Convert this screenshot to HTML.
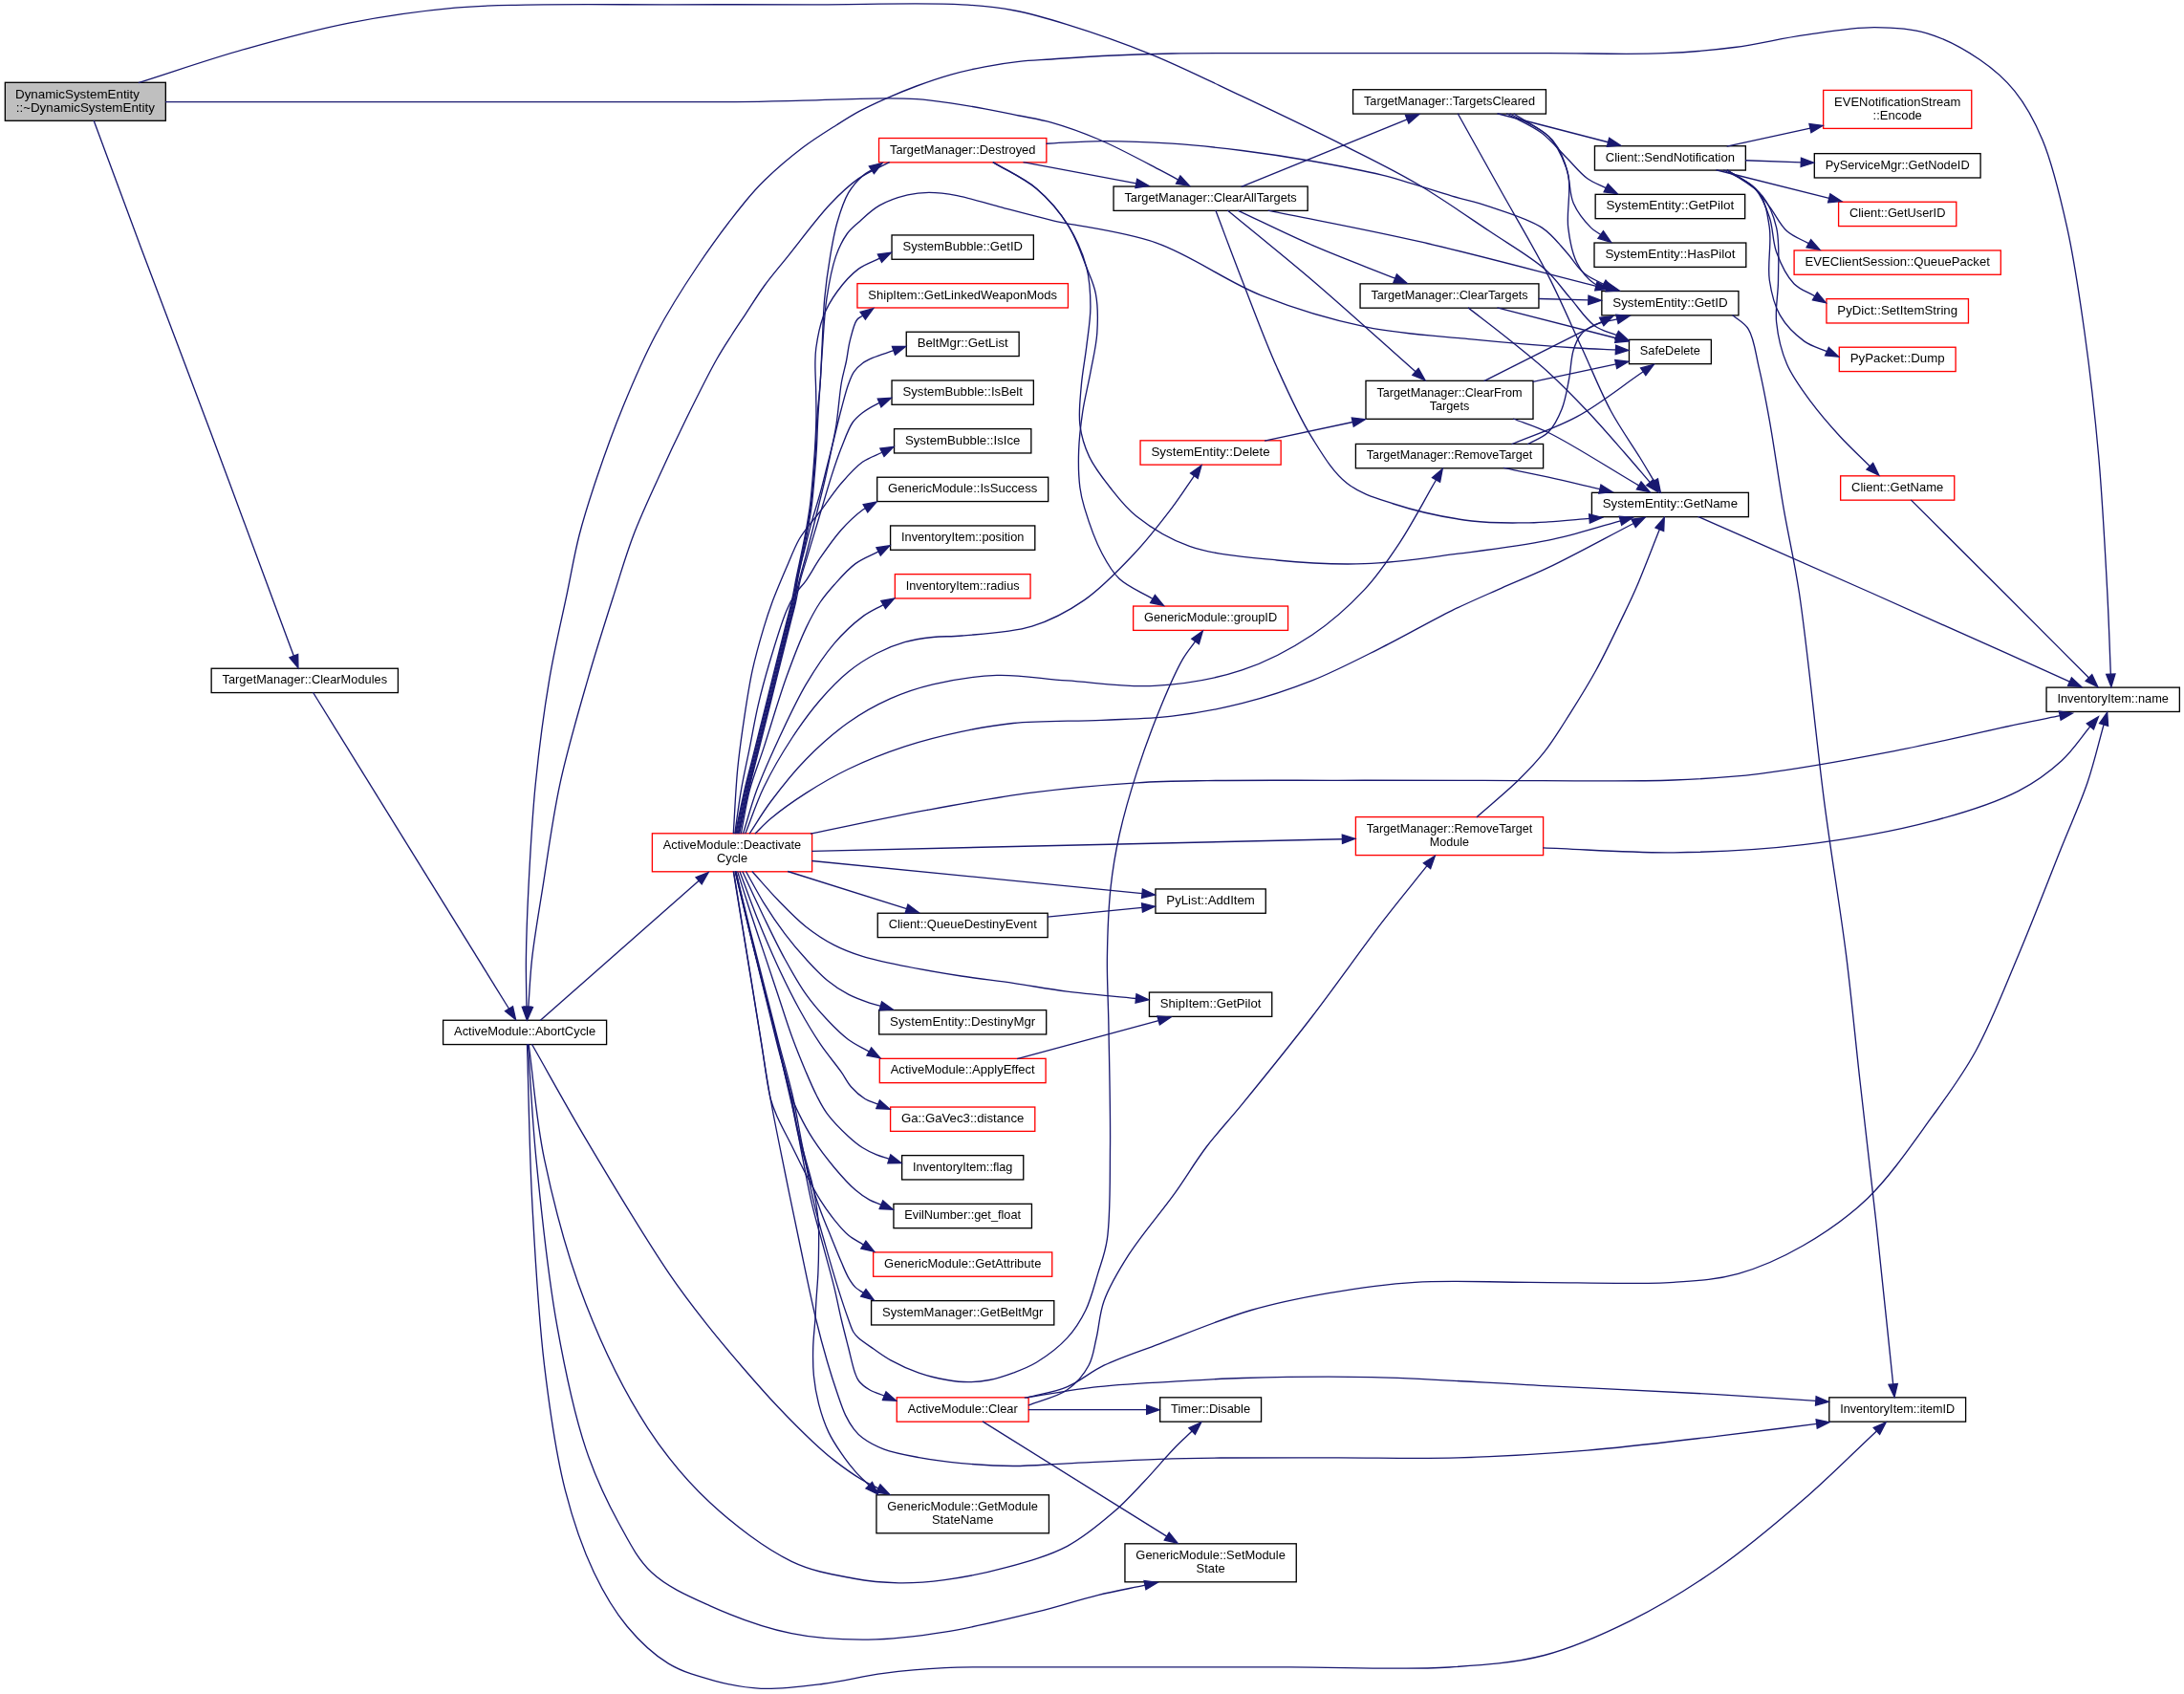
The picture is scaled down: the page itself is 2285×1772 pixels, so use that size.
<!DOCTYPE html><html><head><meta charset="utf-8"><title>call graph</title><style>html,body{margin:0;padding:0;background:#fff}svg{display:block}text{font-family:"Liberation Sans",sans-serif;font-size:13.33px;fill:#000}</style></head><body>
<svg xmlns="http://www.w3.org/2000/svg" width="2285" height="1772" viewBox="0 0 2285 1772">
<rect width="2285" height="1772" fill="#fff"/>
<g><rect x="5.33" y="86.30" width="168.00" height="40.00" fill="#bfbfbf" stroke="#000" stroke-width="1.333"/><rect x="221.15" y="699.24" width="195.30" height="25.33" fill="#fff" stroke="#000" stroke-width="1.333"/><rect x="463.60" y="1067.24" width="171.00" height="25.33" fill="#fff" stroke="#000" stroke-width="1.333"/><rect x="682.40" y="871.80" width="167.20" height="40.00" fill="#fff" stroke="#f00" stroke-width="1.333"/><rect x="919.55" y="144.53" width="175.30" height="25.33" fill="#fff" stroke="#f00" stroke-width="1.333"/><rect x="933.05" y="245.94" width="148.30" height="25.33" fill="#fff" stroke="#000" stroke-width="1.333"/><rect x="896.95" y="296.63" width="220.50" height="25.33" fill="#fff" stroke="#f00" stroke-width="1.333"/><rect x="948.25" y="347.23" width="117.90" height="25.33" fill="#fff" stroke="#000" stroke-width="1.333"/><rect x="933.05" y="397.94" width="148.30" height="25.33" fill="#fff" stroke="#000" stroke-width="1.333"/><rect x="935.55" y="448.63" width="143.30" height="25.33" fill="#fff" stroke="#000" stroke-width="1.333"/><rect x="917.70" y="499.23" width="179.00" height="25.33" fill="#fff" stroke="#000" stroke-width="1.333"/><rect x="931.60" y="549.94" width="151.20" height="25.33" fill="#fff" stroke="#000" stroke-width="1.333"/><rect x="936.35" y="600.63" width="141.70" height="25.33" fill="#fff" stroke="#f00" stroke-width="1.333"/><rect x="918.25" y="955.24" width="177.90" height="25.33" fill="#fff" stroke="#000" stroke-width="1.333"/><rect x="919.70" y="1056.63" width="175.00" height="25.33" fill="#fff" stroke="#000" stroke-width="1.333"/><rect x="920.30" y="1107.34" width="173.80" height="25.33" fill="#fff" stroke="#f00" stroke-width="1.333"/><rect x="931.60" y="1158.04" width="151.20" height="25.33" fill="#fff" stroke="#f00" stroke-width="1.333"/><rect x="943.65" y="1208.63" width="127.10" height="25.33" fill="#fff" stroke="#000" stroke-width="1.333"/><rect x="934.95" y="1259.34" width="144.50" height="25.33" fill="#fff" stroke="#000" stroke-width="1.333"/><rect x="913.65" y="1309.93" width="187.10" height="25.33" fill="#fff" stroke="#f00" stroke-width="1.333"/><rect x="911.60" y="1360.63" width="191.20" height="25.33" fill="#fff" stroke="#000" stroke-width="1.333"/><rect x="938.25" y="1461.84" width="137.90" height="25.33" fill="#fff" stroke="#f00" stroke-width="1.333"/><rect x="916.95" y="1563.80" width="180.50" height="40.00" fill="#fff" stroke="#000" stroke-width="1.333"/><rect x="1165.05" y="195.03" width="203.10" height="25.33" fill="#fff" stroke="#000" stroke-width="1.333"/><rect x="1193.05" y="460.83" width="147.10" height="25.33" fill="#fff" stroke="#f00" stroke-width="1.333"/><rect x="1185.65" y="634.04" width="161.90" height="25.33" fill="#fff" stroke="#f00" stroke-width="1.333"/><rect x="1208.95" y="929.94" width="115.30" height="25.33" fill="#fff" stroke="#000" stroke-width="1.333"/><rect x="1202.45" y="1038.04" width="128.30" height="25.33" fill="#fff" stroke="#000" stroke-width="1.333"/><rect x="1213.65" y="1461.84" width="105.90" height="25.33" fill="#fff" stroke="#000" stroke-width="1.333"/><rect x="1176.95" y="1614.80" width="179.30" height="40.00" fill="#fff" stroke="#000" stroke-width="1.333"/><rect x="1415.55" y="93.74" width="201.90" height="25.33" fill="#fff" stroke="#000" stroke-width="1.333"/><rect x="1423.05" y="296.83" width="186.90" height="25.33" fill="#fff" stroke="#000" stroke-width="1.333"/><rect x="1429.00" y="398.30" width="175.00" height="40.00" fill="#fff" stroke="#000" stroke-width="1.333"/><rect x="1418.40" y="464.44" width="196.20" height="25.33" fill="#fff" stroke="#000" stroke-width="1.333"/><rect x="1418.40" y="854.60" width="196.20" height="40.00" fill="#fff" stroke="#f00" stroke-width="1.333"/><rect x="1668.45" y="152.74" width="157.90" height="25.33" fill="#fff" stroke="#000" stroke-width="1.333"/><rect x="1669.15" y="203.34" width="156.50" height="25.33" fill="#fff" stroke="#000" stroke-width="1.333"/><rect x="1668.00" y="254.03" width="158.80" height="25.33" fill="#fff" stroke="#000" stroke-width="1.333"/><rect x="1675.85" y="304.53" width="143.10" height="25.33" fill="#fff" stroke="#000" stroke-width="1.333"/><rect x="1704.45" y="355.33" width="85.90" height="25.33" fill="#fff" stroke="#000" stroke-width="1.333"/><rect x="1665.40" y="515.34" width="164.00" height="25.33" fill="#fff" stroke="#000" stroke-width="1.333"/><rect x="1907.65" y="94.40" width="155.10" height="40.00" fill="#fff" stroke="#f00" stroke-width="1.333"/><rect x="1898.30" y="160.64" width="173.80" height="25.33" fill="#fff" stroke="#000" stroke-width="1.333"/><rect x="1923.60" y="211.24" width="123.20" height="25.33" fill="#fff" stroke="#f00" stroke-width="1.333"/><rect x="1877.10" y="261.94" width="216.20" height="25.33" fill="#fff" stroke="#f00" stroke-width="1.333"/><rect x="1910.95" y="312.63" width="148.50" height="25.33" fill="#fff" stroke="#f00" stroke-width="1.333"/><rect x="1924.30" y="363.23" width="121.80" height="25.33" fill="#fff" stroke="#f00" stroke-width="1.333"/><rect x="1925.65" y="497.83" width="119.10" height="25.33" fill="#fff" stroke="#f00" stroke-width="1.333"/><rect x="1913.80" y="1461.84" width="142.80" height="25.33" fill="#fff" stroke="#000" stroke-width="1.333"/><rect x="2141.05" y="719.13" width="139.30" height="25.33" fill="#fff" stroke="#000" stroke-width="1.333"/></g>
<g style="filter:grayscale(1)"><text x="16.00" y="102.50" textLength="129.97" lengthAdjust="spacingAndGlyphs">DynamicSystemEntity</text><text x="89.33" y="116.60" text-anchor="middle" textLength="145.20" lengthAdjust="spacingAndGlyphs">::~DynamicSystemEntity</text><text x="318.80" y="715.20" text-anchor="middle" textLength="172.50" lengthAdjust="spacingAndGlyphs">TargetManager::ClearModules</text><text x="549.10" y="1083.20" text-anchor="middle" textLength="148.20" lengthAdjust="spacingAndGlyphs">ActiveModule::AbortCycle</text><text x="766.00" y="888.00" text-anchor="middle" textLength="144.40" lengthAdjust="spacingAndGlyphs">ActiveModule::Deactivate</text><text x="766.00" y="902.10" text-anchor="middle" textLength="32.00" lengthAdjust="spacingAndGlyphs">Cycle</text><text x="1007.20" y="160.50" text-anchor="middle" textLength="152.50" lengthAdjust="spacingAndGlyphs">TargetManager::Destroyed</text><text x="1007.20" y="261.90" text-anchor="middle" textLength="125.50" lengthAdjust="spacingAndGlyphs">SystemBubble::GetID</text><text x="1007.20" y="312.60" text-anchor="middle" textLength="197.70" lengthAdjust="spacingAndGlyphs">ShipItem::GetLinkedWeaponMods</text><text x="1007.20" y="363.20" text-anchor="middle" textLength="95.10" lengthAdjust="spacingAndGlyphs">BeltMgr::GetList</text><text x="1007.20" y="413.90" text-anchor="middle" textLength="125.50" lengthAdjust="spacingAndGlyphs">SystemBubble::IsBelt</text><text x="1007.20" y="464.60" text-anchor="middle" textLength="120.50" lengthAdjust="spacingAndGlyphs">SystemBubble::IsIce</text><text x="1007.20" y="515.20" text-anchor="middle" textLength="156.20" lengthAdjust="spacingAndGlyphs">GenericModule::IsSuccess</text><text x="1007.20" y="565.90" text-anchor="middle" textLength="128.40" lengthAdjust="spacingAndGlyphs">InventoryItem::position</text><text x="1007.20" y="616.60" text-anchor="middle" textLength="118.90" lengthAdjust="spacingAndGlyphs">InventoryItem::radius</text><text x="1007.20" y="971.20" text-anchor="middle" textLength="155.10" lengthAdjust="spacingAndGlyphs">Client::QueueDestinyEvent</text><text x="1007.20" y="1072.60" text-anchor="middle" textLength="152.20" lengthAdjust="spacingAndGlyphs">SystemEntity::DestinyMgr</text><text x="1007.20" y="1123.30" text-anchor="middle" textLength="151.00" lengthAdjust="spacingAndGlyphs">ActiveModule::ApplyEffect</text><text x="1007.20" y="1174.00" text-anchor="middle" textLength="128.40" lengthAdjust="spacingAndGlyphs">Ga::GaVec3::distance</text><text x="1007.20" y="1224.60" text-anchor="middle" textLength="104.30" lengthAdjust="spacingAndGlyphs">InventoryItem::flag</text><text x="1007.20" y="1275.30" text-anchor="middle" textLength="121.70" lengthAdjust="spacingAndGlyphs">EvilNumber::get_float</text><text x="1007.20" y="1325.90" text-anchor="middle" textLength="164.30" lengthAdjust="spacingAndGlyphs">GenericModule::GetAttribute</text><text x="1007.20" y="1376.60" text-anchor="middle" textLength="168.40" lengthAdjust="spacingAndGlyphs">SystemManager::GetBeltMgr</text><text x="1007.20" y="1477.80" text-anchor="middle" textLength="115.10" lengthAdjust="spacingAndGlyphs">ActiveModule::Clear</text><text x="1007.20" y="1580.00" text-anchor="middle" textLength="157.70" lengthAdjust="spacingAndGlyphs">GenericModule::GetModule</text><text x="1007.20" y="1594.10" text-anchor="middle" textLength="64.51" lengthAdjust="spacingAndGlyphs">StateName</text><text x="1266.60" y="211.00" text-anchor="middle" textLength="180.30" lengthAdjust="spacingAndGlyphs">TargetManager::ClearAllTargets</text><text x="1266.60" y="476.80" text-anchor="middle" textLength="124.30" lengthAdjust="spacingAndGlyphs">SystemEntity::Delete</text><text x="1266.60" y="650.00" text-anchor="middle" textLength="139.10" lengthAdjust="spacingAndGlyphs">GenericModule::groupID</text><text x="1266.60" y="945.90" text-anchor="middle" textLength="92.50" lengthAdjust="spacingAndGlyphs">PyList::AddItem</text><text x="1266.60" y="1054.00" text-anchor="middle" textLength="105.50" lengthAdjust="spacingAndGlyphs">ShipItem::GetPilot</text><text x="1266.60" y="1477.80" text-anchor="middle" textLength="83.10" lengthAdjust="spacingAndGlyphs">Timer::Disable</text><text x="1266.60" y="1631.00" text-anchor="middle" textLength="156.50" lengthAdjust="spacingAndGlyphs">GenericModule::SetModule</text><text x="1266.60" y="1645.10" text-anchor="middle" textLength="30.16" lengthAdjust="spacingAndGlyphs">State</text><text x="1516.50" y="109.70" text-anchor="middle" textLength="179.10" lengthAdjust="spacingAndGlyphs">TargetManager::TargetsCleared</text><text x="1516.50" y="312.80" text-anchor="middle" textLength="164.10" lengthAdjust="spacingAndGlyphs">TargetManager::ClearTargets</text><text x="1516.50" y="414.50" text-anchor="middle" textLength="152.20" lengthAdjust="spacingAndGlyphs">TargetManager::ClearFrom</text><text x="1516.50" y="428.60" text-anchor="middle" textLength="41.58" lengthAdjust="spacingAndGlyphs">Targets</text><text x="1516.50" y="480.40" text-anchor="middle" textLength="173.40" lengthAdjust="spacingAndGlyphs">TargetManager::RemoveTarget</text><text x="1516.50" y="870.80" text-anchor="middle" textLength="173.40" lengthAdjust="spacingAndGlyphs">TargetManager::RemoveTarget</text><text x="1516.50" y="884.90" text-anchor="middle" textLength="41.26" lengthAdjust="spacingAndGlyphs">Module</text><text x="1747.40" y="168.70" text-anchor="middle" textLength="135.10" lengthAdjust="spacingAndGlyphs">Client::SendNotification</text><text x="1747.40" y="219.30" text-anchor="middle" textLength="133.70" lengthAdjust="spacingAndGlyphs">SystemEntity::GetPilot</text><text x="1747.40" y="270.00" text-anchor="middle" textLength="136.00" lengthAdjust="spacingAndGlyphs">SystemEntity::HasPilot</text><text x="1747.40" y="320.50" text-anchor="middle" textLength="120.30" lengthAdjust="spacingAndGlyphs">SystemEntity::GetID</text><text x="1747.40" y="371.30" text-anchor="middle" textLength="63.10" lengthAdjust="spacingAndGlyphs">SafeDelete</text><text x="1747.40" y="531.30" text-anchor="middle" textLength="141.20" lengthAdjust="spacingAndGlyphs">SystemEntity::GetName</text><text x="1985.20" y="110.60" text-anchor="middle" textLength="132.30" lengthAdjust="spacingAndGlyphs">EVENotificationStream</text><text x="1985.20" y="124.70" text-anchor="middle" textLength="51.34" lengthAdjust="spacingAndGlyphs">::Encode</text><text x="1985.20" y="176.60" text-anchor="middle" textLength="151.00" lengthAdjust="spacingAndGlyphs">PyServiceMgr::GetNodeID</text><text x="1985.20" y="227.20" text-anchor="middle" textLength="100.40" lengthAdjust="spacingAndGlyphs">Client::GetUserID</text><text x="1985.20" y="277.90" text-anchor="middle" textLength="193.40" lengthAdjust="spacingAndGlyphs">EVEClientSession::QueuePacket</text><text x="1985.20" y="328.60" text-anchor="middle" textLength="125.70" lengthAdjust="spacingAndGlyphs">PyDict::SetItemString</text><text x="1985.20" y="379.20" text-anchor="middle" textLength="99.00" lengthAdjust="spacingAndGlyphs">PyPacket::Dump</text><text x="1985.20" y="513.80" text-anchor="middle" textLength="96.30" lengthAdjust="spacingAndGlyphs">Client::GetName</text><text x="1985.20" y="1477.80" text-anchor="middle" textLength="120.00" lengthAdjust="spacingAndGlyphs">InventoryItem::itemID</text><text x="2210.70" y="735.10" text-anchor="middle" textLength="116.50" lengthAdjust="spacingAndGlyphs">InventoryItem::name</text></g>
<g fill="none" stroke="#191970" stroke-width="1.333"><path d="M98.09,126.00C114.23,169.47 128.62,208.65 146.50,256.40C168.34,314.71 196.37,387.95 219.80,450.50C241.68,508.91 266.66,576.67 282.80,620.10C292.86,647.19 299.15,664.08 307.32,686.07"/><path d="M173.03,106.60C248.69,106.60 326.74,106.60 400.00,106.60C468.77,106.60 536.14,106.60 600.00,106.60C658.70,106.60 724.69,107.04 769.00,106.60C797.72,106.32 815.14,105.77 840.00,105.20C867.51,104.56 905.00,102.92 926.90,102.90C940.21,102.89 948.03,102.92 959.00,103.70C970.63,104.53 982.89,106.22 994.80,107.90C1006.73,109.58 1018.62,111.62 1030.50,113.80C1042.42,115.99 1054.47,118.58 1066.20,121.00C1077.63,123.35 1087.76,124.64 1100.00,128.10C1115.17,132.39 1132.58,138.57 1150.00,146.00C1170.10,154.58 1198.31,169.82 1213.30,177.60C1221.66,181.94 1226.22,184.56 1232.69,188.04"/><path d="M144.85,86.60C182.03,74.83 219.19,61.83 256.40,51.30C293.01,40.94 329.48,31.02 366.30,23.80C402.75,16.66 443.19,11.13 476.20,8.10C503.03,5.64 520.71,5.72 549.50,5.10C590.73,4.22 649.88,4.85 700.00,4.80C750.04,4.75 799.48,4.80 850.00,4.80C901.59,4.80 967.63,2.62 1006.40,4.80C1029.46,6.10 1043.20,7.57 1061.40,11.00C1079.84,14.47 1096.00,19.31 1116.30,25.60C1142.31,33.66 1174.58,44.75 1204.20,56.80C1235.61,69.58 1266.68,85.21 1299.50,100.70C1334.88,117.40 1376.51,137.26 1409.30,153.80C1436.32,167.42 1458.31,178.02 1482.60,192.30C1507.99,207.22 1534.76,226.03 1558.30,241.80C1579.16,255.78 1601.97,268.70 1616.90,282.00C1627.96,291.85 1633.95,301.62 1642.50,311.40C1651.05,321.18 1659.04,334.06 1668.20,340.70C1675.59,346.06 1683.75,347.34 1691.52,350.67"/><path d="M327.49,724.26L532.54,1055.23"/><path d="M550.95,1053.24C550.77,1036.46 550.19,1021.24 550.40,1002.90C550.66,980.78 551.54,956.56 552.90,929.70C554.57,896.76 556.64,856.37 560.30,819.80C563.97,783.11 569.03,744.59 574.90,709.90C580.24,678.36 587.80,647.03 593.40,620.10C597.98,598.06 600.89,579.91 606.00,560.00C611.17,539.88 617.22,521.01 624.30,500.00C632.29,476.28 641.79,449.82 652.00,425.00C662.36,399.81 673.19,374.36 686.10,350.00C699.16,325.35 714.33,301.27 730.00,278.00C745.64,254.77 766.76,226.62 780.00,210.50C787.88,200.91 791.89,196.36 800.00,188.50C810.78,178.04 826.75,164.33 840.00,154.30C851.97,145.25 864.93,137.32 875.70,130.50C884.36,125.01 891.18,120.68 899.50,116.20C908.21,111.52 917.34,107.33 926.90,103.10C937.11,98.58 947.94,94.09 959.00,90.00C970.54,85.73 982.80,81.48 994.80,78.10C1006.63,74.77 1018.56,72.09 1030.50,69.80C1042.36,67.53 1054.44,65.71 1066.20,64.40C1077.60,63.14 1087.48,62.86 1100.00,62.00C1115.67,60.93 1133.82,59.46 1152.90,58.50C1175.34,57.38 1198.58,56.50 1226.20,56.00C1262.09,55.34 1307.84,55.75 1350.00,55.70C1394.03,55.65 1440.00,55.70 1485.00,55.70C1530.00,55.70 1576.19,55.70 1620.00,55.70C1661.54,55.70 1706.04,57.19 1741.40,55.70C1768.93,54.54 1790.35,52.67 1814.70,49.50C1839.18,46.31 1863.43,40.09 1887.90,36.60C1912.27,33.13 1938.53,28.56 1961.20,28.60C1980.82,28.64 1998.25,29.51 2016.10,34.80C2034.93,40.38 2055.25,51.50 2071.10,62.30C2085.28,71.96 2097.07,82.02 2107.70,95.20C2119.35,109.64 2128.56,126.33 2137.00,146.50C2147.71,172.09 2155.54,205.97 2162.70,238.10C2170.45,272.87 2175.66,309.89 2181.00,348.00C2186.75,389.02 2191.69,432.18 2195.60,476.20C2199.73,522.73 2202.61,578.39 2204.80,620.10C2206.49,652.14 2207.14,676.80 2208.32,705.15"/><path d="M930.69,169.56C919.83,175.34 908.28,179.76 898.10,186.90C887.54,194.30 878.98,202.57 868.60,213.50C854.79,228.04 836.84,252.53 824.30,268.10C814.97,279.69 807.50,288.22 800.00,298.50C792.77,308.40 786.10,319.42 780.00,328.60C774.86,336.34 770.60,342.52 765.80,350.00C760.61,358.09 755.94,364.98 750.00,375.50C740.91,391.60 728.26,417.12 718.00,438.00C707.87,458.62 698.11,479.43 688.80,500.00C679.70,520.10 670.40,539.81 662.70,560.00C655.13,579.85 649.94,598.03 642.90,620.10C634.32,647.00 624.26,678.36 615.20,709.90C605.23,744.59 593.86,782.98 585.90,819.80C578.03,856.25 572.82,896.76 567.60,929.70C563.35,956.55 559.09,980.73 556.60,1002.90C554.54,1021.21 554.09,1036.48 552.83,1053.27"/><path d="M565.19,1067.54L731.18,921.28"/><path d="M770.04,872.10C773.26,856.93 776.57,840.10 779.70,826.60C782.23,815.68 784.63,806.93 787.10,797.10C789.57,787.27 792.03,777.43 794.50,767.60C796.97,757.77 799.45,747.94 801.90,738.10C804.35,728.27 806.75,718.44 809.20,708.60C811.65,698.74 814.13,688.86 816.60,679.00C819.06,669.16 821.79,658.32 824.00,649.50C825.80,642.33 827.31,637.11 828.90,630.00C830.79,621.53 832.53,611.15 834.40,602.00C836.20,593.17 838.15,584.67 839.90,576.00C841.65,567.34 843.44,558.36 844.90,550.00C846.25,542.27 847.40,535.60 848.40,527.60C849.55,518.46 850.37,507.94 851.20,498.10C852.03,488.27 852.82,478.45 853.40,468.60C853.98,458.75 854.00,449.54 854.70,439.00C855.51,426.89 857.31,412.75 858.20,400.00C859.05,387.77 859.33,377.08 860.00,364.00C860.80,348.34 861.17,328.91 862.70,312.40C864.12,297.04 866.24,282.00 868.60,268.10C870.72,255.60 872.61,243.98 875.90,232.70C879.05,221.89 882.69,210.27 887.70,201.70C891.88,194.54 897.82,188.06 902.50,183.90C905.76,181.00 908.78,179.83 911.92,177.79"/><path d="M771.04,872.10C774.26,856.93 777.57,840.10 780.70,826.60C783.23,815.68 785.63,806.93 788.10,797.10C790.57,787.27 793.03,777.43 795.50,767.60C797.97,757.77 800.45,747.94 802.90,738.10C805.35,728.27 807.75,718.44 810.20,708.60C812.65,698.74 815.13,688.86 817.60,679.00C820.06,669.16 822.79,658.32 825.00,649.50C826.80,642.33 828.31,637.11 829.90,630.00C831.79,621.53 833.53,611.15 835.40,602.00C837.20,593.17 839.15,584.67 840.90,576.00C842.65,567.34 844.44,558.36 845.90,550.00C847.25,542.27 848.40,535.60 849.40,527.60C850.55,518.46 851.37,507.94 852.20,498.10C853.03,488.27 853.82,478.45 854.40,468.60C854.98,458.75 855.13,449.54 855.70,439.00C856.35,426.89 857.38,412.74 858.20,400.00C858.98,387.76 859.53,377.07 860.50,364.00C861.67,348.34 862.42,328.87 864.90,312.40C867.22,296.99 870.19,280.34 874.50,268.10C877.79,258.76 881.80,250.74 886.30,244.50C889.88,239.54 893.42,236.90 898.10,232.70C904.20,227.22 911.87,219.64 920.20,214.90C928.97,209.91 940.44,206.11 949.70,203.90C957.50,202.04 963.97,201.42 971.90,201.40C981.03,201.38 990.65,202.60 1001.40,204.60C1014.76,207.09 1030.17,212.34 1045.70,216.40C1062.87,220.88 1078.69,225.27 1100.00,230.30C1130.19,237.43 1174.04,241.47 1209.90,254.10C1247.38,267.30 1282.52,294.30 1319.80,309.10C1355.83,323.40 1392.73,334.46 1429.70,342.10C1466.01,349.60 1502.94,351.25 1539.60,354.90C1576.20,358.55 1621.71,362.21 1649.50,364.00C1666.44,365.09 1676.81,365.25 1690.46,365.88"/><path d="M769.24,872.10C772.46,856.93 775.77,840.10 778.90,826.60C781.43,815.68 783.83,806.93 786.30,797.10C788.77,787.27 791.23,777.43 793.70,767.60C796.17,757.77 798.65,747.94 801.10,738.10C803.55,728.27 805.95,718.44 808.40,708.60C810.85,698.74 813.33,688.86 815.80,679.00C818.26,669.16 820.99,658.32 823.20,649.50C825.00,642.33 826.51,637.11 828.10,630.00C829.99,621.53 831.73,611.15 833.60,602.00C835.40,593.17 837.35,584.67 839.10,576.00C840.85,567.34 842.64,558.36 844.10,550.00C845.45,542.27 846.60,535.60 847.60,527.60C848.75,518.46 849.57,507.94 850.40,498.10C851.23,488.27 852.02,478.45 852.60,468.60C853.18,458.75 853.72,448.86 853.90,439.00C854.08,429.16 853.87,419.33 853.70,409.50C853.53,399.67 852.78,388.34 852.90,380.00C852.99,373.86 852.92,370.23 853.80,364.00C855.07,355.02 857.37,341.53 861.20,331.50C864.86,321.94 869.89,313.23 875.90,305.00C882.11,296.49 890.12,287.34 898.10,281.40C905.11,276.18 913.01,273.93 920.46,270.20"/><path d="M772.04,872.10C775.26,856.93 778.57,840.10 781.70,826.60C784.23,815.68 786.63,806.93 789.10,797.10C791.57,787.27 794.03,777.43 796.50,767.60C798.97,757.77 801.45,747.94 803.90,738.10C806.35,728.27 808.75,718.44 811.20,708.60C813.65,698.74 816.13,688.86 818.60,679.00C821.06,669.16 823.79,658.32 826.00,649.50C827.80,642.33 829.28,636.70 830.90,630.00C832.62,622.90 834.09,615.62 836.00,608.00C838.08,599.68 840.69,590.75 843.00,582.00C845.35,573.09 847.69,564.09 850.00,555.00C852.35,545.76 854.73,536.25 857.00,527.00C859.23,517.92 861.43,509.09 863.50,500.00C865.60,490.76 867.58,481.34 869.50,472.00C871.41,462.67 873.34,454.42 875.00,444.00C877.07,431.02 878.29,412.11 880.40,400.00C881.91,391.36 883.92,385.30 885.40,378.00C886.85,370.83 887.39,363.72 889.20,356.60C891.08,349.22 893.40,338.77 896.60,334.50C898.41,332.09 900.69,331.66 902.74,330.24"/><path d="M772.84,872.10C776.06,856.93 779.37,840.10 782.50,826.60C785.03,815.68 787.43,806.93 789.90,797.10C792.37,787.27 794.83,777.43 797.30,767.60C799.77,757.77 802.25,747.94 804.70,738.10C807.15,728.27 809.55,718.44 812.00,708.60C814.45,698.74 816.93,688.86 819.40,679.00C821.86,669.16 824.59,658.32 826.80,649.50C828.60,642.33 830.45,637.01 831.70,630.00C833.13,622.00 832.92,612.85 834.50,604.00C836.19,594.54 839.35,584.66 841.80,575.00C844.25,565.33 846.52,555.72 849.20,546.00C851.94,536.06 855.36,525.94 858.10,516.00C860.78,506.28 863.05,496.67 865.50,487.00C867.95,477.34 870.37,467.75 872.80,458.00C875.27,448.09 877.64,437.61 880.20,428.00C882.59,419.03 885.01,409.22 887.60,402.10C889.50,396.89 890.91,392.67 893.50,388.90C895.92,385.38 899.12,382.44 902.40,380.00C905.58,377.64 908.60,376.25 912.80,374.40C918.73,371.80 927.59,369.28 934.98,366.71"/><path d="M773.64,872.10C776.86,856.93 780.17,840.10 783.30,826.60C785.83,815.68 788.23,806.93 790.70,797.10C793.17,787.27 795.63,777.43 798.10,767.60C800.57,757.77 803.05,747.94 805.50,738.10C807.95,728.27 810.35,718.44 812.80,708.60C815.25,698.74 817.73,688.86 820.20,679.00C822.66,669.16 825.39,658.32 827.60,649.50C829.40,642.33 830.97,636.71 832.50,630.00C834.12,622.91 835.20,615.24 837.00,608.00C838.80,600.78 841.00,594.30 843.30,586.60C846.00,577.55 849.25,566.94 852.20,557.10C855.15,547.27 858.05,537.43 861.00,527.60C863.95,517.76 866.71,507.90 869.90,498.10C873.11,488.23 876.44,478.10 880.20,468.60C883.83,459.43 887.51,448.51 892.00,442.00C895.19,437.38 898.43,434.80 902.40,431.70C906.71,428.34 914.00,424.40 917.10,422.80C918.46,422.10 919.13,421.93 920.14,421.49"/><path d="M767.28,872.10C768.75,849.57 769.66,825.49 771.70,804.50C773.49,786.08 775.82,770.00 778.40,752.80C780.99,735.57 783.61,717.67 787.20,701.20C790.56,685.79 795.16,669.78 799.00,656.90C802.02,646.77 804.36,639.55 807.90,630.00C812.05,618.80 817.82,605.37 822.70,594.00C827.15,583.64 831.37,572.48 835.90,564.50C839.29,558.53 842.64,554.57 846.30,549.70C850.03,544.73 853.61,540.79 858.10,535.00C864.38,526.90 872.49,514.39 880.20,505.50C887.31,497.30 894.67,488.83 902.40,483.30C909.00,478.58 916.08,476.59 922.91,473.24"/><path d="M768.76,872.10C770.97,856.93 772.79,841.62 775.40,826.60C777.98,811.72 781.35,797.14 784.30,782.40C787.25,767.64 789.68,752.81 793.10,738.10C796.54,723.28 800.32,709.27 804.90,693.80C810.02,676.48 817.32,652.14 822.70,639.20C825.82,631.70 828.04,627.34 831.50,622.00C834.92,616.72 839.31,612.91 843.30,607.30C848.15,600.48 852.48,591.88 858.10,583.70C864.56,574.29 872.42,562.86 880.20,554.20C887.26,546.34 898.28,536.54 902.40,533.50C903.81,532.46 904.45,532.32 905.47,531.74"/><path d="M775.34,872.10C778.33,856.93 780.36,841.53 784.30,826.60C788.25,811.63 793.57,799.03 799.00,782.40C806.01,760.95 814.69,730.89 822.70,708.60C829.49,689.71 836.56,671.17 843.30,656.90C848.30,646.30 852.81,637.90 858.10,630.00C862.73,623.09 867.20,617.93 872.80,611.70C879.27,604.50 886.97,595.51 895.00,589.60C902.50,584.09 911.09,581.12 919.14,576.89"/><path d="M777.51,872.10C782.24,856.93 785.98,842.09 791.70,826.60C797.90,809.79 805.62,792.66 813.80,775.00C822.67,755.84 832.80,733.68 843.30,715.90C852.61,700.12 862.27,685.39 872.80,673.10C882.12,662.22 892.89,652.19 902.40,645.10C909.86,639.54 916.89,636.74 924.14,632.55"/><path d="M779.78,872.10C786.19,855.97 791.23,839.82 799.00,823.70C807.31,806.46 818.25,787.83 828.60,772.00C838.03,757.57 847.81,744.14 858.10,732.20C867.55,721.25 877.31,711.04 887.60,702.70C897.05,695.04 907.00,688.74 917.10,683.50C926.69,678.52 936.61,674.54 946.60,671.70C956.32,668.94 966.25,667.62 976.20,666.50C986.18,665.38 994.17,666.13 1006.40,665.00C1025.53,663.24 1057.54,661.94 1079.70,655.10C1099.89,648.87 1117.40,639.52 1134.60,627.60C1152.96,614.87 1170.33,596.51 1185.90,580.00C1200.72,564.29 1214.87,546.05 1226.20,531.10C1235.27,519.13 1241.66,508.88 1249.38,497.78"/><path d="M784.10,872.10C791.53,860.90 797.67,850.22 806.40,838.50C816.84,824.48 829.83,807.93 843.30,794.20C856.88,780.35 872.28,766.62 887.60,755.80C901.88,745.72 916.80,737.42 931.90,730.70C946.36,724.26 959.73,719.79 976.20,715.90C996.00,711.23 1020.17,707.16 1043.00,706.40C1066.82,705.61 1090.50,710.16 1116.30,711.90C1145.13,713.85 1177.47,719.20 1207.90,717.40C1238.54,715.59 1271.30,710.29 1299.50,700.90C1325.95,692.09 1350.85,678.80 1372.70,664.20C1393.30,650.44 1411.98,633.46 1427.70,616.60C1442.09,601.16 1452.48,585.66 1464.30,567.80C1477.51,547.85 1489.78,523.91 1502.52,501.96"/><path d="M789.89,872.10C795.39,866.80 799.56,861.91 806.40,856.20C816.04,848.15 830.19,838.00 843.30,829.60C857.17,820.71 871.49,812.24 887.60,804.50C905.59,795.85 926.72,787.46 946.60,780.90C966.09,774.47 986.32,769.52 1005.70,765.40C1024.09,761.49 1039.41,758.53 1060.00,756.50C1086.76,753.86 1123.77,754.62 1152.90,753.30C1178.79,752.13 1201.86,752.11 1226.20,749.20C1250.73,746.27 1275.28,741.84 1299.50,735.70C1324.12,729.46 1348.60,721.49 1372.70,711.90C1397.45,702.05 1421.70,689.25 1446.00,677.10C1470.53,664.83 1496.80,649.55 1519.20,638.60C1537.70,629.55 1553.61,622.86 1570.60,615.30C1587.21,607.91 1601.29,602.63 1620.00,593.70C1645.53,581.51 1679.41,562.88 1709.12,547.47"/><path d="M847.91,872.10C888.54,863.87 930.16,854.71 969.80,847.40C1007.32,840.48 1042.98,833.87 1079.70,829.10C1116.25,824.35 1156.65,820.84 1189.60,818.80C1216.44,817.14 1234.60,817.05 1262.80,816.60C1301.41,815.98 1353.25,816.35 1400.00,816.30C1448.89,816.25 1496.34,816.34 1550.00,816.30C1612.13,816.25 1697.36,818.03 1751.10,816.00C1787.14,814.64 1808.30,813.27 1841.30,809.30C1881.94,804.41 1931.60,795.33 1976.60,786.70C2021.80,778.04 2079.28,764.20 2111.90,757.40C2130.33,753.56 2140.79,751.61 2155.23,748.72"/><path d="M849.30,890.31L1404.40,877.72"/><path d="M849.30,900.47L1195.01,934.62"/><path d="M824.14,911.50L948.55,950.57"/><path d="M786.93,911.50C795.89,921.43 804.44,931.68 813.80,941.30C823.23,950.99 833.08,961.32 843.30,969.40C852.80,976.91 862.69,983.36 872.80,988.60C882.42,993.58 891.40,996.95 902.40,1000.40C915.52,1004.52 930.75,1007.47 946.60,1010.70C964.82,1014.41 986.39,1018.00 1005.70,1021.00C1024.16,1023.86 1041.75,1025.75 1060.00,1028.40C1078.61,1031.11 1096.33,1034.54 1116.30,1037.10C1138.84,1039.99 1164.45,1042.02 1188.52,1044.48"/><path d="M780.43,911.50C786.62,922.43 792.29,933.53 799.00,944.30C805.86,955.30 813.56,966.69 821.20,976.80C828.35,986.27 835.73,995.02 843.30,1003.30C850.52,1011.20 857.78,1019.18 865.50,1025.50C872.60,1031.31 880.02,1036.21 887.60,1040.20C894.78,1043.98 903.46,1046.97 909.70,1049.10C914.15,1050.61 917.45,1051.28 921.33,1052.36"/><path d="M776.76,911.50C784.17,927.33 791.49,943.49 799.00,959.00C806.30,974.07 813.54,989.34 821.20,1003.30C828.34,1016.30 835.47,1029.18 843.30,1040.20C850.33,1050.09 857.85,1058.70 865.50,1066.80C872.65,1074.37 879.92,1081.81 887.60,1087.50C894.59,1092.68 902.11,1095.85 909.36,1100.02"/><path d="M773.89,911.50C779.82,927.33 785.25,942.91 791.70,959.00C798.49,975.94 806.18,994.24 813.80,1010.70C820.95,1026.15 828.24,1041.05 835.90,1055.00C843.04,1068.01 850.41,1080.47 858.10,1091.90C865.22,1102.48 874.30,1113.05 880.20,1121.40C884.41,1127.35 886.49,1132.33 890.60,1137.00C894.75,1141.71 900.01,1146.41 905.00,1149.50C909.39,1152.22 914.08,1153.28 918.62,1155.17"/><path d="M771.61,911.50C775.84,924.90 779.86,938.00 784.30,951.70C788.97,966.10 794.09,981.16 799.00,995.90C803.92,1010.66 808.87,1025.43 813.80,1040.20C818.73,1054.97 823.47,1070.48 828.60,1084.50C833.33,1097.43 838.63,1110.39 843.30,1121.40C847.15,1130.48 850.50,1138.41 854.40,1146.00C857.93,1152.87 860.72,1158.67 865.50,1165.10C871.28,1172.88 880.75,1182.38 887.60,1188.70C892.84,1193.54 897.30,1197.23 902.40,1200.50C907.16,1203.55 912.26,1205.88 917.10,1207.90C921.56,1209.76 925.93,1210.85 930.34,1212.33"/><path d="M769.73,911.50C774.59,932.27 779.36,953.33 784.30,973.80C789.12,993.75 794.09,1013.13 799.00,1032.80C803.92,1052.49 809.06,1072.91 813.80,1091.90C818.20,1109.55 822.02,1129.62 826.50,1143.00C829.52,1152.03 832.18,1157.49 835.90,1165.10C840.09,1173.66 844.93,1182.80 850.70,1191.70C857.05,1201.49 865.16,1212.11 872.80,1221.20C879.96,1229.72 888.07,1238.80 895.00,1244.80C900.16,1249.27 904.88,1252.45 909.70,1255.10C913.85,1257.38 917.88,1258.49 921.97,1260.18"/><path d="M767.55,911.50C770.70,931.00 773.81,950.38 777.00,970.00C780.23,989.87 783.55,1010.00 786.80,1030.00C790.05,1050.00 793.23,1070.00 796.50,1090.00C799.77,1110.00 802.52,1135.61 806.40,1150.00C808.67,1158.43 810.69,1162.42 813.80,1169.50C817.71,1178.41 823.68,1189.15 828.60,1199.00C833.52,1208.85 838.27,1219.06 843.30,1228.60C848.12,1237.74 852.95,1246.94 858.10,1255.10C862.81,1262.56 867.69,1269.47 872.80,1275.80C877.55,1281.69 882.27,1287.52 887.60,1292.00C892.53,1296.14 898.13,1298.73 903.39,1302.09"/><path d="M769.13,911.50C774.09,932.27 779.04,953.32 784.00,973.80C788.83,993.74 793.67,1013.12 798.50,1032.80C803.34,1052.49 808.26,1073.23 813.00,1091.90C817.28,1108.78 821.96,1124.24 825.60,1140.00C829.07,1155.02 831.07,1169.59 834.50,1184.30C837.96,1199.12 842.19,1214.56 846.30,1228.60C850.08,1241.51 853.95,1253.96 858.10,1265.50C861.86,1275.95 866.08,1285.57 869.90,1295.00C873.43,1303.71 876.98,1312.67 880.20,1320.10C882.81,1326.12 884.89,1331.62 887.60,1336.30C889.89,1340.25 892.20,1343.84 895.00,1346.60C897.51,1349.07 900.56,1350.45 903.34,1352.37"/><path d="M769.53,911.50C774.45,932.27 779.32,953.33 784.30,973.80C789.15,993.75 794.09,1013.13 799.00,1032.80C803.92,1052.49 808.93,1072.74 813.80,1091.90C818.42,1110.08 823.57,1127.16 827.50,1145.00C831.43,1162.85 833.88,1180.61 837.40,1199.00C841.09,1218.27 844.96,1239.88 849.20,1258.10C852.90,1273.99 857.06,1287.64 861.00,1302.40C864.93,1317.14 869.45,1332.86 872.80,1346.60C875.70,1358.48 877.66,1369.23 880.20,1380.00C882.60,1390.16 885.16,1399.94 887.60,1409.50C889.92,1418.58 892.21,1429.69 894.50,1436.00C895.84,1439.70 896.42,1441.82 898.50,1444.50C901.08,1447.84 905.44,1451.24 909.70,1453.80C914.28,1456.55 920.06,1458.05 925.25,1460.17"/><path d="M769.93,911.50C774.95,932.27 779.92,953.33 785.00,973.80C789.95,993.75 795.00,1013.12 800.00,1032.80C805.00,1052.49 810.04,1072.74 815.00,1091.90C819.70,1110.08 824.92,1127.16 829.00,1145.00C833.09,1162.86 835.84,1180.60 839.50,1199.00C843.33,1218.26 847.19,1239.88 851.50,1258.10C855.26,1273.99 859.34,1287.66 863.50,1302.40C867.67,1317.16 872.22,1332.93 876.50,1346.60C880.24,1358.55 884.45,1371.38 887.60,1380.00C889.63,1385.54 890.93,1390.08 893.00,1393.50C894.49,1395.96 895.64,1397.10 897.90,1399.20C901.59,1402.61 908.44,1407.13 914.00,1411.00C919.76,1415.01 925.02,1419.01 931.90,1422.80C940.35,1427.45 951.41,1432.63 961.40,1436.10C971.09,1439.47 981.71,1441.90 990.90,1443.50C998.77,1444.87 1005.71,1445.70 1013.10,1445.70C1020.48,1445.70 1027.69,1444.98 1035.20,1443.50C1043.30,1441.90 1051.85,1439.14 1060.00,1436.10C1068.32,1433.00 1076.19,1430.14 1084.60,1425.00C1094.98,1418.66 1107.95,1408.95 1116.70,1399.40C1124.75,1390.62 1130.68,1381.20 1135.90,1370.50C1141.54,1358.94 1144.90,1344.69 1148.70,1332.10C1152.32,1320.11 1156.07,1311.55 1158.30,1296.70C1161.91,1272.64 1161.14,1234.87 1161.50,1200.50C1161.91,1160.83 1160.51,1108.78 1159.90,1072.30C1159.44,1045.13 1158.05,1025.07 1158.40,1001.20C1158.76,976.95 1159.66,950.51 1162.10,927.90C1164.22,908.21 1166.98,892.02 1171.20,873.00C1175.88,851.91 1182.46,829.22 1189.60,807.10C1197.04,784.07 1206.56,758.35 1215.20,737.50C1222.46,719.97 1230.24,701.95 1237.20,689.90C1241.83,681.88 1246.14,677.25 1250.61,670.92"/><path d="M767.25,911.50C770.43,931.00 773.60,950.38 776.80,970.00C780.04,989.87 783.35,1010.00 786.60,1030.00C789.85,1050.00 793.03,1070.00 796.30,1090.00C799.57,1110.00 802.38,1128.92 806.20,1150.00C810.48,1173.64 815.95,1200.01 821.00,1225.00C826.05,1250.01 831.15,1274.61 836.50,1300.00C842.03,1326.25 848.24,1357.30 853.70,1380.00C857.79,1396.99 861.54,1410.72 865.50,1424.30C868.91,1436.01 872.38,1446.87 875.80,1456.80C878.74,1465.33 881.31,1473.59 884.60,1480.40C887.32,1486.02 890.26,1490.97 893.50,1495.10C896.27,1498.63 898.50,1501.11 902.40,1504.00C907.91,1508.08 915.95,1512.56 924.50,1515.80C935.02,1519.79 948.48,1522.19 961.40,1524.60C975.43,1527.22 990.15,1529.13 1005.70,1530.60C1022.85,1532.22 1041.70,1533.45 1060.00,1533.50C1078.69,1533.55 1095.32,1531.81 1116.70,1530.80C1144.53,1529.49 1183.99,1527.27 1212.80,1526.30C1236.32,1525.51 1252.08,1525.26 1276.90,1525.00C1311.30,1524.64 1358.77,1524.92 1400.00,1524.90C1441.63,1524.88 1482.90,1526.11 1525.50,1524.90C1569.77,1523.64 1615.74,1520.96 1660.80,1517.20C1705.97,1513.43 1754.00,1507.21 1796.20,1502.30C1833.30,1497.98 1865.87,1493.74 1900.70,1489.46"/><path d="M769.33,911.50C774.32,932.27 779.29,953.33 784.30,973.80C789.18,993.74 794.09,1013.13 799.00,1032.80C803.92,1052.49 809.19,1072.71 813.80,1091.90C818.16,1110.05 821.91,1127.58 826.00,1145.00C829.98,1161.93 833.94,1179.19 838.00,1195.00C841.69,1209.37 846.43,1224.41 849.20,1236.00C851.21,1244.43 852.51,1250.64 853.70,1258.00C854.88,1265.31 855.82,1272.62 856.30,1280.00C856.79,1287.42 856.64,1294.41 856.60,1302.40C856.55,1311.58 856.35,1322.16 855.90,1332.00C855.45,1341.82 854.43,1352.72 853.90,1361.40C853.48,1368.30 853.34,1373.09 852.90,1380.00C852.34,1388.71 850.95,1399.66 850.70,1409.50C850.45,1419.33 850.43,1429.19 851.40,1439.00C852.38,1448.90 854.06,1458.84 856.60,1468.60C859.19,1478.55 862.71,1489.17 866.90,1498.10C870.71,1506.21 875.43,1513.22 880.20,1520.20C884.82,1526.97 889.93,1533.62 895.00,1539.40C899.63,1544.67 904.48,1548.92 909.23,1553.68"/><path d="M556.45,1092.27C575.27,1125.28 591.69,1155.60 612.90,1191.30C638.46,1234.33 675.90,1296.63 700.00,1332.10C715.33,1354.67 726.70,1369.01 740.00,1385.90C752.33,1401.56 764.47,1415.80 776.90,1430.20C789.08,1444.32 801.31,1458.29 813.80,1471.50C825.92,1484.32 839.81,1498.25 850.70,1508.40C858.86,1516.00 864.72,1521.29 872.80,1527.60C881.78,1534.61 893.83,1543.08 902.40,1548.30C908.54,1552.04 913.35,1554.05 918.82,1556.93"/><path d="M553.14,1092.27C558.63,1132.48 560.74,1170.75 569.60,1212.90C579.67,1260.80 594.35,1316.44 612.90,1364.10C630.71,1409.86 653.78,1457.23 677.70,1493.80C697.68,1524.35 717.76,1548.44 742.50,1571.50C767.78,1595.07 800.54,1620.04 828.20,1633.30C850.14,1643.82 872.32,1647.27 892.30,1651.00C909.34,1654.18 924.36,1655.53 940.40,1655.80C956.42,1656.06 971.40,1654.88 988.50,1652.60C1008.42,1649.95 1031.43,1645.50 1052.60,1639.70C1074.17,1633.79 1097.54,1627.38 1116.70,1617.30C1134.64,1607.86 1150.70,1594.11 1164.70,1582.10C1176.93,1571.61 1186.24,1561.09 1196.80,1550.00C1207.62,1538.64 1219.46,1524.31 1228.80,1514.70C1235.62,1507.67 1241.03,1502.95 1247.14,1497.07"/><path d="M552.37,1092.27C555.25,1132.48 556.70,1169.15 561.00,1212.90C566.16,1265.40 573.08,1332.46 582.60,1385.70C590.93,1432.26 600.42,1478.16 612.90,1515.40C622.88,1545.17 634.83,1570.37 647.40,1593.20C658.15,1612.74 666.81,1630.83 682.00,1645.00C698.07,1659.99 720.04,1669.48 742.50,1679.60C768.09,1691.13 799.75,1702.83 828.20,1708.70C855.01,1714.23 881.60,1715.36 908.30,1715.10C935.04,1714.84 960.69,1711.50 988.50,1707.10C1019.22,1702.24 1055.88,1693.26 1084.60,1686.20C1108.21,1680.40 1128.66,1673.46 1148.70,1668.60C1166.14,1664.37 1181.57,1661.68 1198.00,1658.22"/><path d="M551.49,1092.27C553.22,1146.88 553.76,1200.79 556.70,1256.10C559.73,1312.96 563.16,1375.56 569.60,1428.90C575.21,1475.37 581.43,1520.12 591.30,1558.60C599.53,1590.71 609.53,1619.84 621.50,1645.00C631.66,1666.36 642.60,1685.00 656.10,1701.20C668.77,1716.40 683.47,1730.50 699.30,1740.10C714.28,1749.18 731.68,1753.92 748.10,1758.30C763.99,1762.54 778.97,1765.52 796.20,1766.30C815.99,1767.19 839.00,1764.15 860.30,1761.50C881.73,1758.83 902.97,1753.12 924.40,1750.30C945.71,1747.50 967.11,1745.67 988.50,1744.60C1009.85,1743.54 1026.85,1744.04 1052.60,1743.90C1091.65,1743.69 1150.65,1743.90 1200.00,1743.90C1249.78,1743.90 1298.70,1743.88 1350.00,1743.90C1404.05,1743.92 1468.23,1747.01 1516.50,1744.00C1553.91,1741.66 1583.93,1739.72 1615.70,1731.50C1647.02,1723.40 1676.40,1710.03 1705.90,1695.40C1736.61,1680.18 1766.78,1661.75 1796.20,1641.30C1827.02,1619.88 1857.97,1593.73 1886.40,1569.10C1913.57,1545.56 1937.74,1521.00 1963.40,1496.95"/><path d="M1070.53,169.56L1188.81,191.89"/><path d="M1094.55,150.21C1114.00,149.34 1132.34,147.70 1152.90,147.60C1175.94,147.49 1201.79,148.55 1226.20,150.20C1250.66,151.85 1275.11,154.46 1299.50,157.50C1323.95,160.55 1348.34,164.23 1372.70,168.50C1397.18,172.79 1421.71,177.15 1446.00,183.20C1470.55,189.32 1498.57,199.11 1519.20,205.10C1534.24,209.46 1544.30,211.34 1558.30,216.10C1575.19,221.84 1599.05,228.76 1613.20,238.10C1624.27,245.41 1631.14,255.32 1638.80,263.70C1645.62,271.16 1650.33,279.98 1657.20,285.70C1663.43,290.89 1670.86,293.43 1677.70,297.30"/><path d="M1038.85,169.56C1054.10,178.84 1071.35,186.15 1084.60,197.40C1097.49,208.34 1108.84,221.85 1117.60,235.80C1126.13,249.38 1131.69,266.76 1136.80,279.80C1140.78,289.96 1144.48,297.05 1146.40,307.30C1148.68,319.50 1148.70,334.81 1147.80,348.50C1146.89,362.28 1143.41,375.99 1140.90,389.70C1138.38,403.45 1134.75,417.12 1132.70,430.90C1130.66,444.58 1129.04,458.64 1128.60,472.10C1128.18,484.98 1128.53,499.26 1129.90,510.00C1130.93,518.11 1132.09,522.76 1134.60,531.10C1138.46,543.92 1145.94,565.51 1152.90,578.80C1158.45,589.39 1163.08,597.94 1171.20,605.60C1180.28,614.16 1194.41,619.54 1206.01,626.50"/><path d="M1038.85,169.56C1054.10,178.84 1071.35,186.15 1084.60,197.40C1097.49,208.34 1108.84,221.85 1117.60,235.80C1126.13,249.38 1132.96,265.07 1136.80,279.80C1140.37,293.48 1140.90,307.27 1140.90,321.00C1140.90,334.73 1138.40,348.48 1136.80,362.20C1135.20,375.95 1132.45,389.64 1131.30,403.40C1130.16,417.11 1128.27,431.75 1129.90,444.60C1131.39,456.34 1134.62,467.02 1139.60,477.60C1144.91,488.88 1153.37,499.69 1161.50,510.00C1169.80,520.51 1177.34,530.73 1189.00,540.00C1203.59,551.61 1222.92,563.85 1244.50,571.40C1270.52,580.50 1305.39,582.95 1336.00,586.00C1366.46,589.03 1396.68,590.73 1427.70,589.70C1459.81,588.63 1493.22,583.32 1525.50,579.20C1557.31,575.14 1590.44,571.36 1620.00,565.20C1646.75,559.63 1670.33,551.61 1695.49,544.81"/><path d="M1323.05,461.13L1415.29,441.52"/><path d="M1095.85,959.13L1195.01,949.46"/><path d="M1064.13,1107.63L1212.14,1067.52"/><path d="M1075.85,1474.70L1199.65,1474.70"/><path d="M1027.96,1486.87L1220.74,1607.08"/><path d="M1071.83,1462.13C1097.46,1458.29 1121.58,1453.53 1148.70,1450.60C1178.91,1447.33 1217.27,1445.80 1244.90,1444.20C1265.80,1442.99 1277.57,1442.12 1300.00,1441.50C1335.13,1440.52 1386.98,1439.56 1435.30,1440.60C1491.13,1441.81 1555.56,1446.60 1615.70,1449.60C1675.86,1452.60 1744.34,1455.60 1796.20,1458.60C1835.51,1460.87 1865.29,1463.14 1899.83,1465.41"/><path d="M1074.13,1462.13C1088.32,1458.29 1103.23,1456.24 1116.70,1450.60C1130.22,1444.94 1140.69,1435.14 1155.10,1428.20C1172.10,1420.01 1191.08,1414.00 1212.80,1405.80C1240.75,1395.25 1278.00,1379.56 1309.00,1370.50C1336.93,1362.34 1362.31,1357.41 1390.20,1352.60C1419.36,1347.57 1448.15,1343.31 1480.40,1341.30C1517.39,1338.99 1557.81,1341.30 1600.00,1341.30C1647.43,1341.30 1710.80,1343.97 1751.10,1341.30C1778.18,1339.51 1796.58,1338.43 1818.70,1332.30C1841.71,1325.92 1864.53,1315.55 1886.40,1303.00C1909.72,1289.63 1932.76,1273.90 1954.00,1253.40C1978.25,1230.00 2001.90,1194.97 2021.70,1167.70C2038.79,1144.17 2052.76,1125.50 2066.80,1100.00C2083.19,1070.23 2097.19,1033.51 2111.90,998.70C2127.29,962.28 2143.87,918.81 2157.00,886.00C2167.18,860.57 2176.59,840.41 2184.10,818.30C2191.06,797.80 2195.41,778.08 2201.06,757.97"/><path d="M1075.85,1470.04C1089.47,1464.63 1105.81,1461.49 1116.70,1453.80C1126.28,1447.03 1134.03,1437.56 1139.10,1428.20C1143.80,1419.51 1144.52,1410.22 1147.00,1400.00C1149.90,1388.05 1150.26,1374.18 1155.10,1360.80C1160.75,1345.19 1170.14,1329.46 1180.80,1312.70C1193.72,1292.40 1214.46,1268.64 1228.80,1248.60C1241.09,1231.42 1250.20,1215.61 1262.00,1200.00C1273.77,1184.44 1285.04,1172.80 1299.50,1155.10C1319.97,1130.04 1348.57,1094.84 1372.70,1063.50C1397.42,1031.38 1424.04,993.15 1446.00,964.60C1463.18,942.26 1477.34,925.33 1493.01,905.69"/><path d="M1298.68,195.34L1472.21,124.76"/><path d="M1326.69,220.06C1379.46,230.94 1430.33,240.17 1485.00,252.70C1544.38,266.30 1608.25,283.79 1669.87,299.34"/><path d="M1294.87,220.06C1320.81,232.18 1345.87,244.78 1372.70,256.40C1400.71,268.54 1430.66,279.61 1459.64,291.21"/><path d="M1284.27,220.06C1313.75,244.38 1341.97,266.75 1372.70,293.00C1407.21,322.48 1444.88,356.86 1480.98,388.80"/><path d="M1271.84,220.06C1281.06,244.38 1289.51,267.35 1299.50,293.00C1310.73,321.84 1323.28,356.01 1336.10,384.60C1347.78,410.65 1359.40,436.65 1372.70,457.90C1384.09,476.10 1394.51,493.88 1409.30,505.50C1423.21,516.43 1439.24,520.89 1457.90,527.00C1481.37,534.68 1515.25,541.88 1540.00,545.00C1560.01,547.52 1580.14,546.94 1594.90,546.90C1604.88,546.87 1610.52,546.47 1620.00,545.90C1632.42,545.15 1648.66,543.58 1662.98,542.41"/><path d="M1566.49,118.77L1682.50,148.73"/><path d="M1576.17,118.77C1588.52,125.58 1602.48,131.14 1613.20,139.20C1623.12,146.66 1630.59,156.59 1638.80,164.80C1646.41,172.41 1653.24,181.32 1660.80,186.80C1667.12,191.38 1673.76,193.36 1680.24,196.64"/><path d="M1579.60,118.77C1593.23,126.81 1610.45,132.60 1620.50,142.90C1629.44,152.08 1634.52,164.18 1638.80,175.80C1643.07,187.39 1641.55,201.79 1646.20,212.50C1650.46,222.32 1658.84,232.40 1664.50,238.10C1668.09,241.71 1671.32,243.05 1674.73,245.53"/><path d="M1583.66,118.77C1597.17,128.01 1614.59,135.01 1624.20,146.50C1632.90,156.90 1637.74,169.38 1640.70,183.20C1644.16,199.34 1638.70,221.76 1640.70,238.10C1642.36,251.64 1644.63,264.52 1649.80,274.70C1654.31,283.57 1661.95,292.67 1668.20,296.70C1672.50,299.47 1676.91,299.11 1681.27,300.31"/><path d="M1525.20,118.77C1540.13,145.51 1554.66,171.52 1570.00,199.00C1586.21,228.04 1605.28,259.76 1620.00,288.60C1633.25,314.56 1643.76,339.69 1655.00,364.00C1665.51,386.72 1674.58,409.95 1685.40,430.00C1695.05,447.88 1707.75,465.48 1716.00,479.00C1721.77,488.45 1725.63,495.15 1730.45,503.22"/><path d="M1609.65,312.48L1661.86,313.92"/><path d="M1566.48,321.87L1690.87,353.74"/><path d="M1536.00,321.87C1550.00,332.74 1564.09,343.32 1578.00,354.50C1592.09,365.83 1606.38,377.00 1620.00,389.40C1633.97,402.12 1647.45,416.00 1660.70,430.00C1674.12,444.19 1688.27,460.62 1700.00,474.00C1709.69,485.06 1717.50,494.37 1726.25,504.55"/><path d="M1552.60,398.60L1675.71,336.54"/><path d="M1603.70,399.36L1690.74,380.97"/><path d="M1583.14,438.00C1595.42,442.83 1605.21,445.31 1620.00,452.50C1644.62,464.46 1683.12,489.45 1714.68,507.93"/><path d="M1598.20,464.74C1605.47,460.49 1614.11,457.90 1620.00,452.00C1626.18,445.82 1630.46,436.79 1634.00,428.00C1637.79,418.58 1639.46,407.35 1641.50,397.00C1643.51,386.78 1643.59,374.77 1646.20,366.30C1648.19,359.84 1650.30,354.41 1654.00,350.00C1657.61,345.69 1662.43,342.60 1668.00,340.00C1674.68,336.89 1683.96,335.90 1691.95,333.85"/><path d="M1581.54,464.74C1604.30,455.12 1627.54,448.00 1649.80,435.90C1673.49,423.02 1696.07,404.51 1719.21,388.82"/><path d="M1573.09,489.47C1588.72,492.71 1603.84,495.66 1620.00,499.20C1637.36,503.01 1655.93,507.51 1673.90,511.66"/><path d="M1544.79,854.90C1559.42,841.93 1576.10,828.36 1588.70,816.00C1599.08,805.82 1607.10,797.63 1615.70,786.70C1625.22,774.60 1633.93,760.10 1642.80,746.10C1652.01,731.57 1661.17,716.90 1669.90,701.00C1679.25,683.96 1689.31,662.61 1696.90,646.90C1702.69,634.91 1706.41,627.44 1711.80,615.00C1719.18,597.96 1728.14,574.14 1736.32,553.71"/><path d="M1614.30,886.88C1659.90,888.52 1705.64,892.34 1751.10,891.80C1796.34,891.26 1841.46,889.14 1886.40,883.70C1931.67,878.22 1981.52,869.55 2021.70,858.90C2055.19,850.02 2087.67,839.73 2111.90,827.30C2130.29,817.86 2144.16,807.50 2157.00,795.70C2168.81,784.85 2176.91,771.86 2186.86,759.93"/><path d="M1806.68,153.04L1893.95,134.16"/><path d="M1826.05,167.79L1884.31,169.82"/><path d="M1795.46,177.76L1913.73,207.33"/><path d="M1803.27,177.76C1813.18,183.21 1824.79,187.33 1833.00,194.10C1840.54,200.32 1845.34,208.36 1851.30,216.10C1857.56,224.22 1862.33,235.25 1869.60,241.80C1876.22,247.77 1884.79,250.40 1892.38,254.70"/><path d="M1806.95,177.76C1816.83,184.44 1829.15,189.32 1836.60,197.80C1843.73,205.92 1847.67,216.53 1851.30,227.10C1855.18,238.38 1854.36,252.13 1858.60,263.70C1862.87,275.34 1869.27,288.80 1876.90,296.70C1883.18,303.21 1891.54,305.50 1898.86,309.90"/><path d="M1806.97,177.76C1818.08,185.68 1832.91,191.19 1840.30,201.50C1847.44,211.46 1849.30,224.50 1851.30,238.10C1853.70,254.40 1848.91,276.69 1851.30,293.00C1853.30,306.62 1856.14,318.98 1862.30,329.70C1868.39,340.31 1878.86,350.63 1887.90,357.10C1895.41,362.47 1903.61,364.17 1911.47,367.70"/><path d="M1806.98,177.76C1819.32,186.88 1835.29,194.23 1844.00,205.10C1851.71,214.72 1855.68,225.38 1858.60,238.10C1862.20,253.79 1860.57,275.71 1860.50,293.00C1860.43,308.48 1857.13,322.44 1858.60,337.00C1860.10,351.78 1863.62,367.12 1869.60,381.00C1875.73,395.23 1886.01,408.57 1895.30,421.20C1904.37,433.53 1914.39,444.88 1924.60,456.00C1934.74,467.05 1945.76,477.16 1956.34,487.74"/><path d="M1812.53,329.56C1818.12,334.48 1824.94,337.32 1829.30,344.30C1835.27,353.85 1836.87,370.06 1840.30,384.60C1844.28,401.45 1847.57,418.91 1851.30,439.60C1856.09,466.20 1860.78,500.85 1866.00,531.10C1871.16,560.98 1876.87,583.63 1882.40,620.00C1891.08,677.04 1900.03,773.40 1908.90,840.80C1916.41,897.88 1925.15,948.44 1931.50,998.70C1937.28,1044.43 1940.83,1084.75 1945.90,1130.00C1951.33,1178.44 1957.46,1228.90 1963.10,1280.40C1969.05,1334.72 1974.80,1392.07 1980.65,1447.91"/><path d="M1776.54,540.37C1836.86,566.91 1895.12,592.33 1957.50,620.00C2024.47,649.71 2096.17,682.02 2165.51,713.02"/><path d="M1999.26,522.87C2031.74,555.24 2065.00,588.30 2096.70,620.00C2127.00,650.30 2155.87,679.35 2185.46,709.03"/></g>
<g fill="#191970" stroke="#191970" stroke-width="1.333"><polygon points="302.95,687.70 311.96,698.57 311.69,684.44"/><polygon points="1230.47,192.15 1244.42,194.37 1234.90,183.93"/><polygon points="1689.69,354.96 1703.78,355.91 1693.36,346.38"/><polygon points="528.58,1057.69 539.56,1066.57 536.51,1052.78"/><polygon points="2203.65,705.34 2208.87,718.47 2212.98,704.95"/><polygon points="546.28,1053.29 551.10,1066.57 555.62,1053.18"/><polygon points="548.17,1052.92 551.83,1066.57 557.48,1053.62"/><polygon points="734.26,924.78 741.18,912.47 728.09,917.78"/><polygon points="914.46,181.71 923.10,170.53 909.38,173.87"/><polygon points="1690.25,370.54 1703.78,366.49 1690.68,361.22"/><polygon points="922.55,274.37 932.38,264.23 918.37,266.03"/><polygon points="905.40,334.07 913.69,322.64 900.07,326.41"/><polygon points="936.51,371.12 947.58,362.35 933.46,362.30"/><polygon points="921.99,425.77 932.38,416.21 918.29,417.20"/><polygon points="924.97,477.43 934.88,467.37 920.86,469.05"/><polygon points="907.79,535.78 917.03,525.10 903.15,527.69"/><polygon points="921.31,581.01 930.93,570.67 916.96,572.76"/><polygon points="926.47,636.60 935.68,625.89 921.80,628.51"/><polygon points="1253.22,500.44 1257.00,486.84 1245.55,495.11"/><polygon points="1506.56,504.31 1509.21,490.44 1498.48,499.62"/><polygon points="1711.27,551.62 1720.95,541.33 1706.97,543.33"/><polygon points="2156.15,753.29 2168.30,746.10 2154.31,744.14"/><polygon points="1404.51,882.39 1417.73,877.42 1404.30,873.05"/><polygon points="1194.56,939.26 1208.28,935.93 1195.47,929.97"/><polygon points="947.15,955.02 961.27,954.57 949.95,946.12"/><polygon points="1188.04,1049.12 1201.78,1045.84 1188.99,1039.84"/><polygon points="920.07,1056.86 934.16,1055.96 922.59,1047.87"/><polygon points="907.03,1104.06 920.91,1106.66 911.69,1095.97"/><polygon points="916.83,1159.48 930.93,1160.30 920.42,1150.86"/><polygon points="928.86,1216.76 942.98,1216.56 931.82,1207.90"/><polygon points="920.18,1264.49 934.28,1265.28 923.75,1255.87"/><polygon points="900.88,1306.02 914.63,1309.26 905.91,1298.16"/><polygon points="900.68,1356.21 914.29,1359.96 905.99,1348.54"/><polygon points="923.48,1464.49 937.58,1465.22 927.01,1455.85"/><polygon points="1254.42,673.61 1258.30,660.03 1246.80,668.23"/><polygon points="1901.27,1494.09 1913.93,1487.84 1900.13,1484.83"/><polygon points="905.92,1556.98 918.63,1563.13 912.53,1550.39"/><polygon points="916.65,1561.06 930.62,1563.13 921.00,1552.80"/><polygon points="1250.37,1500.44 1256.75,1487.84 1243.91,1493.71"/><polygon points="1198.96,1662.78 1211.04,1655.47 1197.04,1653.65"/><polygon points="1966.59,1500.35 1973.13,1487.84 1960.21,1493.54"/><polygon points="1187.94,196.48 1201.90,194.37 1189.67,187.31"/><polygon points="1675.40,301.36 1689.30,303.86 1680.00,293.24"/><polygon points="1203.61,630.50 1217.44,633.37 1208.42,622.50"/><polygon points="1696.71,549.32 1708.36,541.33 1694.27,540.31"/><polygon points="1416.26,446.09 1428.33,438.75 1414.32,436.96"/><polygon points="1195.47,954.11 1208.28,948.17 1194.56,944.82"/><polygon points="1213.36,1072.03 1225.01,1064.04 1210.92,1063.02"/><polygon points="1199.65,1479.37 1212.98,1474.70 1199.65,1470.03"/><polygon points="1218.27,1611.04 1232.05,1614.13 1223.21,1603.12"/><polygon points="1899.52,1470.07 1913.13,1466.28 1900.13,1460.75"/><polygon points="2205.56,759.23 2204.67,745.13 2196.57,756.70"/><polygon points="1496.66,908.60 1501.32,895.27 1489.36,902.78"/><polygon points="1473.97,129.08 1484.56,119.73 1470.45,120.43"/><polygon points="1668.73,303.86 1682.80,302.60 1671.02,294.81"/><polygon points="1457.90,295.54 1472.01,296.16 1461.37,286.88"/><polygon points="1477.88,392.29 1490.96,397.63 1484.07,385.30"/><polygon points="1663.36,547.06 1676.27,541.33 1662.61,537.76"/><polygon points="1681.33,153.25 1695.40,152.07 1683.66,144.21"/><polygon points="1678.13,200.81 1692.13,202.67 1682.34,192.48"/><polygon points="1671.99,249.31 1685.51,253.37 1677.47,241.75"/><polygon points="1680.03,304.81 1694.12,303.86 1682.51,295.81"/><polygon points="1726.44,505.61 1737.28,514.67 1734.46,500.83"/><polygon points="1661.73,318.59 1675.18,314.29 1661.98,309.26"/><polygon points="1689.71,358.26 1703.78,357.04 1692.03,349.21"/><polygon points="1722.71,507.60 1734.94,514.67 1729.79,501.51"/><polygon points="1677.81,340.70 1687.61,330.54 1673.61,332.37"/><polygon points="1691.70,385.54 1703.78,378.22 1689.77,376.41"/><polygon points="1712.32,511.96 1726.19,514.67 1717.04,503.90"/><polygon points="1693.11,338.37 1704.86,330.54 1690.79,329.33"/><polygon points="1721.83,392.68 1730.24,381.34 1716.59,384.96"/><polygon points="1672.85,516.21 1686.89,514.67 1674.95,507.12"/><polygon points="1740.65,555.44 1741.27,541.33 1731.98,551.98"/><polygon points="2190.44,762.92 2195.40,749.70 2183.27,756.94"/><polygon points="1894.94,138.72 1906.98,131.34 1892.96,129.60"/><polygon points="1884.15,174.48 1897.63,170.28 1884.47,165.15"/><polygon points="1912.60,211.86 1926.66,210.57 1914.86,202.80"/><polygon points="1890.09,258.76 1903.98,261.26 1894.68,250.64"/><polygon points="1896.45,313.90 1910.28,316.77 1901.26,305.90"/><polygon points="1909.56,371.95 1923.63,373.16 1913.39,363.44"/><polygon points="1953.04,491.04 1965.77,497.16 1959.64,484.44"/><polygon points="1976.01,1448.39 1982.04,1461.16 1985.29,1447.42"/><polygon points="2163.61,717.28 2177.68,718.47 2167.42,708.76"/><polygon points="2182.15,712.32 2194.87,718.47 2188.76,705.73"/></g>
</svg></body></html>
